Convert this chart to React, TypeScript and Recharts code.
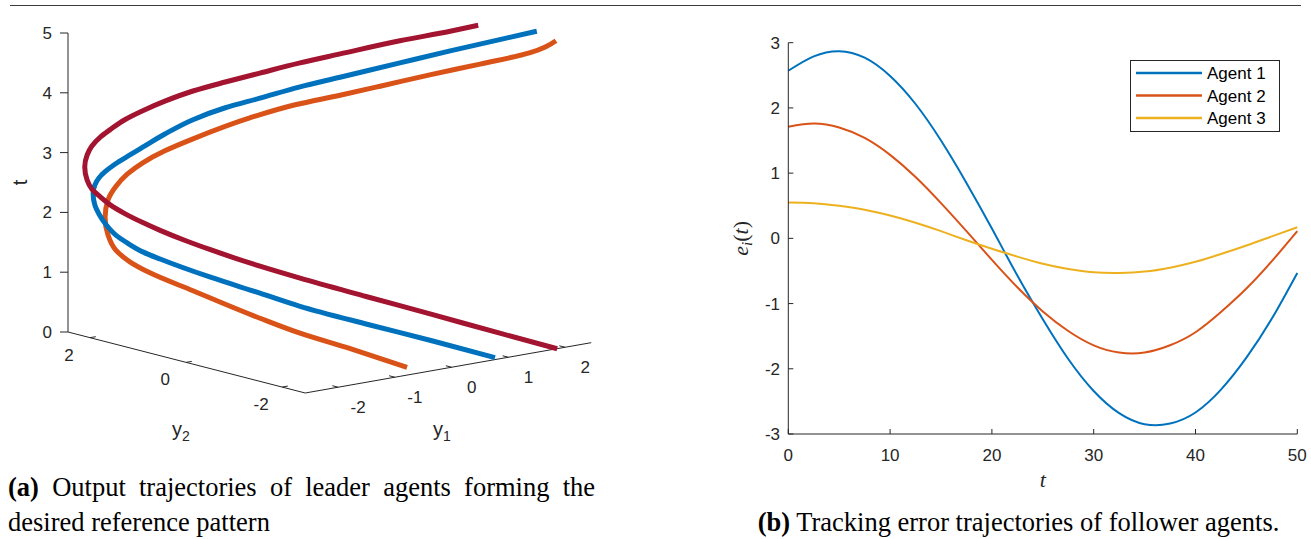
import React from 'react';
import { LineChart, Line, XAxis, YAxis, ReferenceLine, ReferenceDot, Legend } from 'recharts';

// ---------------- (a) leader output trajectories ----------------
// Points read off the projected 3-D view: u = horizontal, v = vertical,
// both in units of the t axis (v grows with t along every trajectory).
const leaderRed = [
  { u: 8.18, v: -0.28 }, { u: 7.22, v: -0.02 }, { u: 6.1, v: 0.29 }, { u: 5.0, v: 0.59 },
  { u: 3.88, v: 0.9 }, { u: 3.21, v: 1.1 }, { u: 2.37, v: 1.38 }, { u: 1.96, v: 1.53 },
  { u: 1.54, v: 1.7 }, { u: 1.25, v: 1.83 }, { u: 0.95, v: 1.98 }, { u: 0.7, v: 2.13 },
  { u: 0.54, v: 2.26 }, { u: 0.4, v: 2.39 }, { u: 0.32, v: 2.54 }, { u: 0.28, v: 2.76 },
  { u: 0.32, v: 2.96 }, { u: 0.4, v: 3.11 }, { u: 0.54, v: 3.26 }, { u: 0.7, v: 3.38 },
  { u: 0.95, v: 3.55 }, { u: 1.25, v: 3.7 }, { u: 1.62, v: 3.86 }, { u: 2.09, v: 4.03 },
  { u: 2.63, v: 4.18 }, { u: 3.21, v: 4.33 }, { u: 3.88, v: 4.5 }, { u: 4.55, v: 4.65 },
  { u: 5.55, v: 4.87 }, { u: 6.39, v: 5.03 }, { u: 6.86, v: 5.13 },
];
const leaderBlue = [
  { u: 7.14, v: -0.43 }, { u: 6.1, v: -0.15 }, { u: 5.0, v: 0.13 }, { u: 3.88, v: 0.43 },
  { u: 3.21, v: 0.65 }, { u: 2.37, v: 0.92 }, { u: 1.54, v: 1.22 }, { u: 1.25, v: 1.34 },
  { u: 0.99, v: 1.49 }, { u: 0.8, v: 1.62 }, { u: 0.64, v: 1.79 }, { u: 0.52, v: 1.97 },
  { u: 0.45, v: 2.12 }, { u: 0.42, v: 2.31 }, { u: 0.45, v: 2.46 }, { u: 0.52, v: 2.58 },
  { u: 0.62, v: 2.68 }, { u: 0.79, v: 2.81 }, { u: 1.0, v: 2.94 }, { u: 1.25, v: 3.09 },
  { u: 1.62, v: 3.31 }, { u: 2.09, v: 3.55 }, { u: 2.63, v: 3.75 }, { u: 3.21, v: 3.91 },
  { u: 3.88, v: 4.1 }, { u: 4.55, v: 4.26 }, { u: 5.55, v: 4.5 }, { u: 6.39, v: 4.7 },
  { u: 7.22, v: 4.89 }, { u: 7.84, v: 5.03 },
];
const leaderOrange = [
  { u: 5.67, v: -0.59 }, { u: 4.72, v: -0.28 }, { u: 3.88, v: -0.02 }, { u: 3.21, v: 0.23 },
  { u: 2.09, v: 0.69 }, { u: 1.37, v: 0.99 }, { u: 1.04, v: 1.17 }, { u: 0.8, v: 1.37 },
  { u: 0.67, v: 1.62 }, { u: 0.62, v: 1.92 }, { u: 0.67, v: 2.21 }, { u: 0.79, v: 2.42 },
  { u: 0.99, v: 2.64 }, { u: 1.25, v: 2.83 }, { u: 1.62, v: 3.03 }, { u: 2.09, v: 3.23 },
  { u: 3.04, v: 3.58 }, { u: 3.8, v: 3.8 }, { u: 4.55, v: 3.96 }, { u: 5.22, v: 4.11 },
  { u: 6.05, v: 4.3 }, { u: 6.89, v: 4.48 }, { u: 7.73, v: 4.67 }, { u: 7.99, v: 4.77 },
  { u: 8.16, v: 4.87 },
];
const tTicks3d = [0, 1, 2, 3, 4, 5];
const y1Ticks = [-2, -1, 0, 1, 2];
const y2Ticks = [2, 0, -2];
const y1Limits = [-2.58, 2.46];
const y2Limits = [-2.48, 2.46];

// ---------------- (b) tracking errors ----------------
const timeSteps = [0, 2.5, 5, 7.5, 10, 12.5, 15, 17.5, 20, 22.5, 25, 27.5, 30, 32.5, 35, 37.5, 40, 42.5, 45, 47.5, 50];
const agent1 = [2.57, 2.79, 2.87, 2.77, 2.49, 2.06, 1.5, 0.85, 0.15, -0.57, -1.24, -1.85, -2.34, -2.68, -2.85, -2.84, -2.67, -2.32, -1.83, -1.23, -0.53];
const agent2 = [1.71, 1.76, 1.7, 1.54, 1.28, 0.94, 0.54, 0.11, -0.33, -0.75, -1.12, -1.42, -1.64, -1.75, -1.75, -1.64, -1.44, -1.13, -0.77, -0.35, 0.11];
const agent3 = [0.55, 0.54, 0.5, 0.44, 0.35, 0.24, 0.11, -0.03, -0.16, -0.28, -0.39, -0.47, -0.52, -0.53, -0.51, -0.45, -0.36, -0.24, -0.11, 0.03, 0.17];
const errTicks = [-3, -2, -1, 0, 1, 2, 3];
const timeTicks = [0, 10, 20, 30, 40, 50];
const agentNames = ['Agent 1', 'Agent 2', 'Agent 3'];

const errData = timeSteps.map((t, i) => ({ t, a1: agent1[i], a2: agent2[i], a3: agent3[i] }));

// ---------------- styling / layout ----------------
const SANS = '"Liberation Sans", Arial, Helvetica, sans-serif';
const SERIF = '"Liberation Serif", "Times New Roman", serif';
const AX = '#262626';
const C_BLUE = '#0072BD';
const C_ORANGE = '#D95319';
const C_YELLOW = '#EDB120';
const C_RED = '#A2142F';

const S = 59.8; // px per t-unit in the 3-D view
const LW = 610;
const LH = 450;
const ORX = 68;
const ORY = 332;
const uDomain = [0, (LW - ORX) / S];
const vDomain = [(ORY - LH) / S, ORY / S];

// projected directions of the y1 / y2 axes (per unit) in the view plane
const Y1_DIR = { u: 0.949, v: 0.167 };
const Y2_DIR = { u: -0.803, v: 0.2065 };
const proj = (y1: number, y2: number) => {
  const a = y1 - y1Limits[0];
  const b = y2 - y2Limits[1];
  return { x: a * Y1_DIR.u + b * Y2_DIR.u, y: a * Y1_DIR.v + b * Y2_DIR.v };
};

const textDot = (key: string, x: number, y: number, render: (cx: number, cy: number) => React.ReactElement) => (
  <ReferenceDot key={key} x={x} y={y} r={0} ifOverflow="visible" shape={(p: any) => render(p.cx, p.cy)} />
);

const seg = (key: string, a: { x: number; y: number }, b: { x: number; y: number }) => (
  <ReferenceLine key={key} segment={[a, b]} stroke={AX} strokeWidth={1} ifOverflow="visible" />
);

function LeaderChart() {
  const A = proj(y1Limits[0], y2Limits[1]);
  const B = proj(y1Limits[0], y2Limits[0]);
  const C = proj(y1Limits[1], y2Limits[0]);
  const px = (d: number) => d / S;
  return (
    <LineChart width={LW} height={LH} margin={{ top: 0, right: 0, bottom: 0, left: 0 }} style={{ fontFamily: SANS }}>
      <XAxis type="number" dataKey="u" domain={uDomain} allowDataOverflow hide />
      <YAxis
        type="number"
        domain={vDomain}
        allowDataOverflow
        ticks={tTicks3d}
        interval={0}
        width={ORX}
        axisLine={false}
        tickLine={{ stroke: AX }}
        tickSize={8}
        tickMargin={8}
        tick={{ fontSize: 17, fill: AX, fontFamily: SANS }}
      />
      {seg('taxis', { x: 0, y: tTicks3d[0] }, { x: 0, y: tTicks3d[tTicks3d.length - 1] })}
      {seg('y2axis', A, B)}
      {seg('y1axis', B, C)}
      {y2Ticks.map((v) => {
        const p = proj(y1Limits[0], v);
        const q = proj(y1Limits[0] + 0.1, v);
        return seg('y2t' + v, p, q);
      })}
      {y1Ticks.map((v) => {
        const p = proj(v, y2Limits[0]);
        const q = proj(v, y2Limits[0] + 0.12);
        return seg('y1t' + v, p, q);
      })}
      {y2Ticks.map((v) => {
        const p = proj(y1Limits[0], v);
        return textDot('y2l' + v, p.x - px(21), p.y - px(17), (cx, cy) => (
          <text x={cx} y={cy} dy="0.35em" textAnchor="middle" fontSize={17} fill={AX} fontFamily={SANS}>{String(v)}</text>
        ));
      })}
      {y1Ticks.map((v) => {
        const p = proj(v, y2Limits[0]);
        return textDot('y1l' + v, p.x + px(20), p.y - px(20), (cx, cy) => (
          <text x={cx} y={cy} dy="0.35em" textAnchor="middle" fontSize={17} fill={AX} fontFamily={SANS}>{String(v)}</text>
        ));
      })}
      {textDot('ttitle', px(20 - ORX), 2.5, (cx, cy) => (
        <text x={cx} y={cy} dy="0.35em" textAnchor="middle" transform={`rotate(-90 ${cx} ${cy})`} fontSize={20} fill={AX} fontFamily={SANS}>t</text>
      ))}
      {textDot('y2title', px(172 - ORX), px(ORY - 436), (cx, cy) => (
        <text x={cx} y={cy} fontSize={20} fill={AX} fontFamily={SANS}>
          y<tspan fontSize={14} dy={5}>2</tspan>
        </text>
      ))}
      {textDot('y1title', px(433 - ORX), px(ORY - 436), (cx, cy) => (
        <text x={cx} y={cy} fontSize={20} fill={AX} fontFamily={SANS}>
          y<tspan fontSize={14} dy={5}>1</tspan>
        </text>
      ))}
      <Line data={leaderOrange} dataKey="v" type="monotoneY" stroke={C_ORANGE} strokeWidth={5} dot={false} isAnimationActive={false} />
      <Line data={leaderBlue} dataKey="v" type="monotoneY" stroke={C_BLUE} strokeWidth={5} dot={false} isAnimationActive={false} />
      <Line data={leaderRed} dataKey="v" type="monotoneY" stroke={C_RED} strokeWidth={5} dot={false} isAnimationActive={false} />
    </LineChart>
  );
}

const ErrLabel = (props: any) => {
  const vb = props.viewBox || { x: 0, y: 0, width: 88, height: 390 };
  const cx = vb.x + 42;
  const cy = vb.y + vb.height / 2;
  return (
    <text x={cx} y={cy} dy={6} textAnchor="middle" transform={`rotate(-90 ${cx} ${cy})`} fontFamily={SERIF} fontSize={22} fill={AX}>
      <tspan fontStyle="italic">e</tspan>
      <tspan fontStyle="italic" fontSize={15} dy={4}>i</tspan>
      <tspan dy={-4}>(</tspan>
      <tspan fontStyle="italic">t</tspan>
      <tspan>)</tspan>
    </text>
  );
};

const TimeLabel = (props: any) => {
  const vb = props.viewBox || { x: 88, y: 414, width: 509, height: 66 };
  return (
    <text x={vb.x + vb.width / 2} y={vb.y + 53} textAnchor="middle" fontStyle="italic" fontFamily={SERIF} fontSize={22} fill={AX}>t</text>
  );
};

const LegendBox = (props: any) => {
  const colors = [C_BLUE, C_ORANGE, C_YELLOW];
  const items = (props.payload && props.payload.length ? props.payload : agentNames.map((n, i) => ({ value: n, color: colors[i] })));
  return (
    <div style={{ width: 150, height: 72, boxSizing: 'border-box', border: `1px solid ${AX}`, background: '#fff' }}>
      <svg width={148} height={70} style={{ display: 'block' }}>
        {items.map((it: any, i: number) => {
          const y = 12 + i * 22.5;
          return (
            <g key={it.value}>
              <line x1={5} x2={71} y1={y} y2={y} stroke={it.color} strokeWidth={2.5} />
              <text x={76} y={y + 6} fontSize={17} fontFamily={SANS} fill="#000">{it.value}</text>
            </g>
          );
        })}
      </svg>
    </div>
  );
};

function ErrorChart() {
  return (
    <LineChart width={611} height={480} data={errData} margin={{ top: 22.7, right: 13.7, bottom: 0, left: 0 }} style={{ fontFamily: SANS }}>
      <XAxis
        type="number"
        dataKey="t"
        domain={[timeTicks[0], timeTicks[timeTicks.length - 1]]}
        ticks={timeTicks}
        interval={0}
        height={66}
        axisLine={{ stroke: AX }}
        tickLine={{ stroke: AX }}
        tickSize={-5}
        tickMargin={20}
        tick={{ fontSize: 17, fill: AX, fontFamily: SANS }}
        label={TimeLabel}
      />
      <YAxis
        type="number"
        domain={[errTicks[0], errTicks[errTicks.length - 1]]}
        ticks={errTicks}
        interval={0}
        width={88.3}
        axisLine={{ stroke: AX }}
        tickLine={{ stroke: AX }}
        tickSize={-5}
        tickMargin={13.3}
        tick={{ fontSize: 17, fill: AX, fontFamily: SANS }}
        label={ErrLabel}
      />
      <Legend
        layout="vertical"
        align="center"
        verticalAlign="middle"
        content={LegendBox}
        wrapperStyle={{ left: 430, top: 40, width: 150, height: 72 }}
      />
      <Line dataKey="a1" name={agentNames[0]} type="natural" stroke={C_BLUE} strokeWidth={2} dot={false} isAnimationActive={false} />
      <Line dataKey="a2" name={agentNames[1]} type="natural" stroke={C_ORANGE} strokeWidth={2} dot={false} isAnimationActive={false} />
      <Line dataKey="a3" name={agentNames[2]} type="natural" stroke={C_YELLOW} strokeWidth={2} dot={false} isAnimationActive={false} />
    </LineChart>
  );
}

const capStyle: React.CSSProperties = { fontFamily: SERIF, fontSize: 26.5, lineHeight: '35px', color: '#000', whiteSpace: 'nowrap' };

export default function App() {
  return (
    <div style={{ position: 'absolute', left: 0, top: 0, width: 1311, height: 539, background: '#fff', overflow: 'hidden' }}>
      <div style={{ position: 'absolute', left: 10, top: 5, width: 1291, height: 0, borderTop: '1.5px solid #3c3c3c' }} />
      <div style={{ position: 'absolute', left: 0, top: 0 }}>
        <LeaderChart />
      </div>
      <div style={{ position: 'absolute', left: 700, top: 20 }}>
        <ErrorChart />
      </div>
      <div style={{ ...capStyle, position: 'absolute', left: 8, top: 469.5, width: 587, textAlign: 'justify', textAlignLast: 'justify' }}>
        <b>(a)</b> <span>Output</span> <span>trajectories</span> <span>of</span> <span>leader</span> <span>agents</span> <span>forming</span> <span>the</span>
      </div>
      <div style={{ ...capStyle, position: 'absolute', left: 8, top: 504.5 }}>
        desired reference pattern
      </div>
      <div style={{ ...capStyle, position: 'absolute', left: 700, top: 504.5, width: 637, textAlign: 'center' }}>
        <b>(b)</b><span> Tracking error trajectories of follower agents.</span>
      </div>
    </div>
  );
}
